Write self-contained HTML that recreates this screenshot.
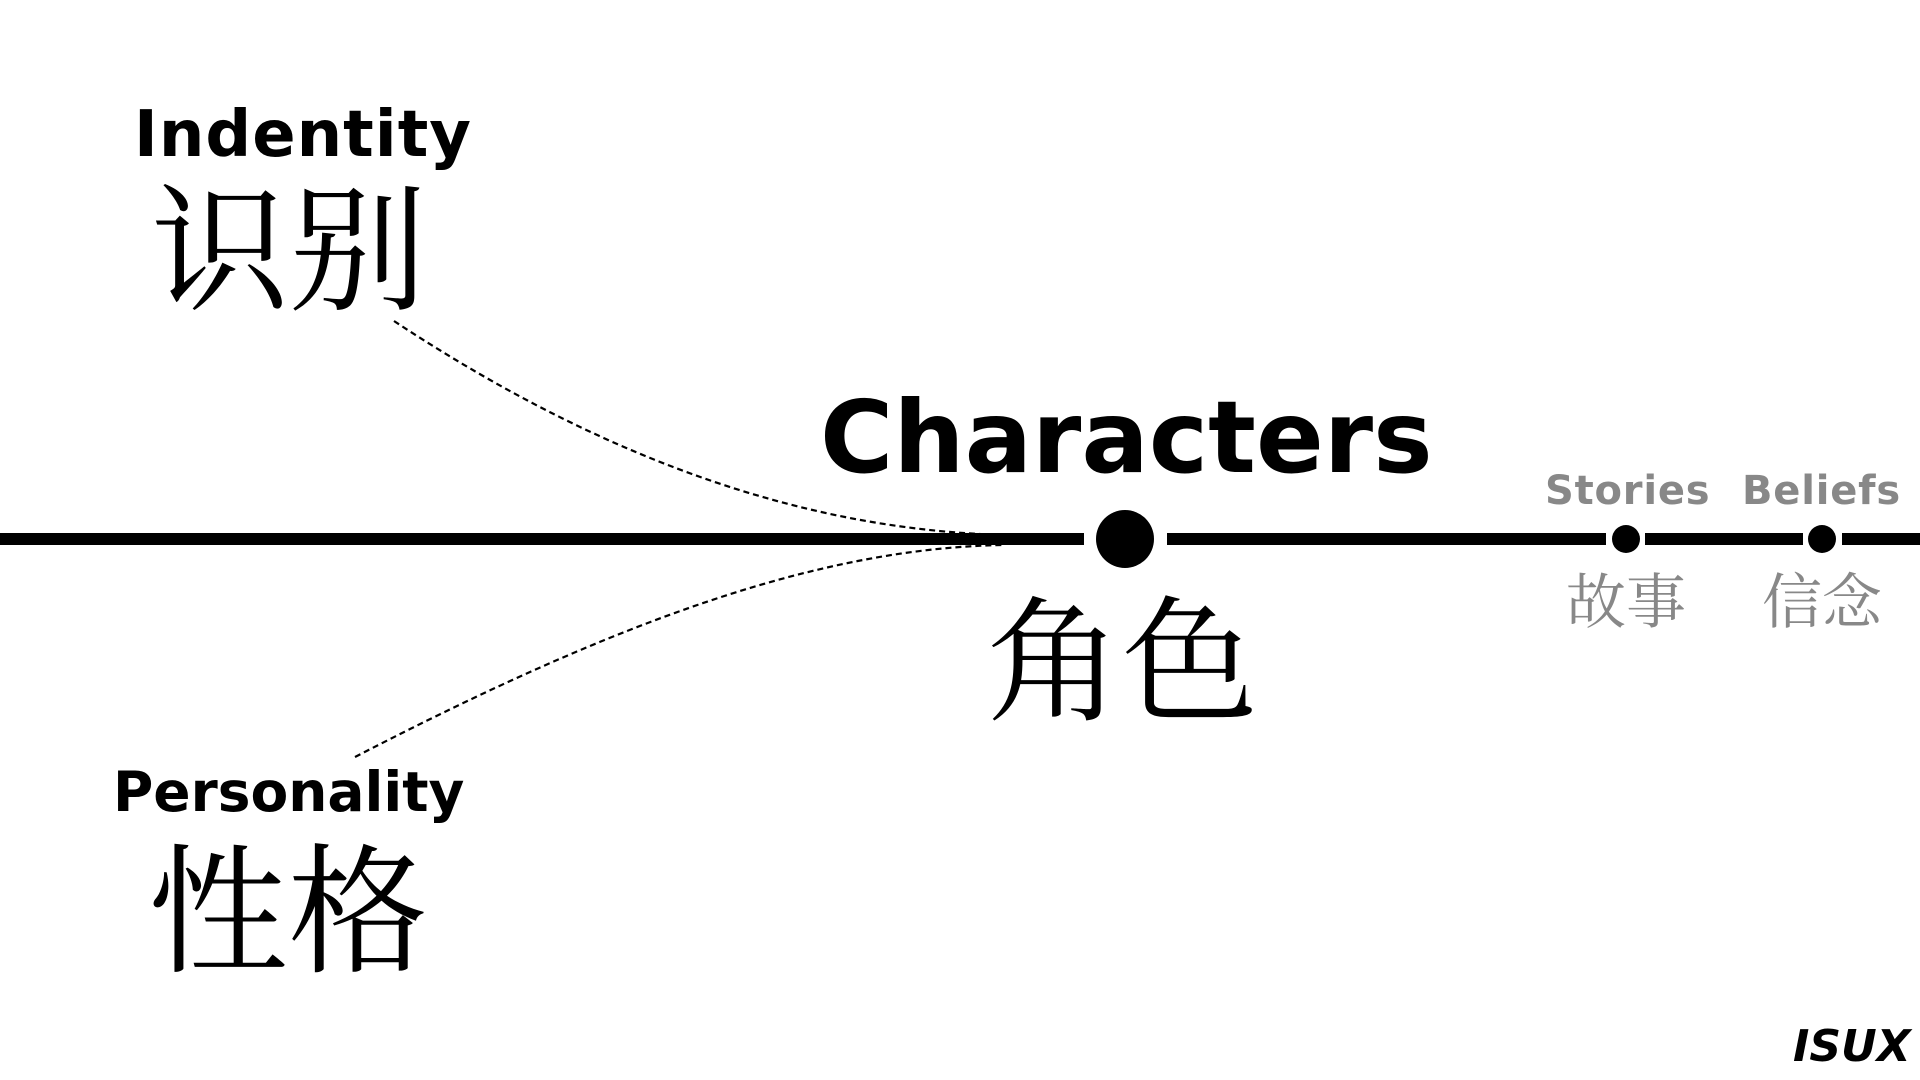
<!DOCTYPE html>
<html><head><meta charset="utf-8"><style>
html,body{margin:0;padding:0;background:#fff;}
body{width:1920px;height:1080px;position:relative;overflow:hidden;}
.t{position:absolute;white-space:nowrap;line-height:1;}
.en{font-family:"DejaVu Sans","Liberation Sans",sans-serif;font-weight:bold;}
.zh{font-family:"Liberation Serif","Noto Serif CJK SC",serif;}
</style></head><body>
<svg width="1920" height="1080" style="position:absolute;left:0;top:0">
<path d="M394,321 C620,470 820,530 1004,535" fill="none" stroke="#000" stroke-width="2.2" stroke-dasharray="6,4"/>
<path d="M355,757 C620,620 820,548 1004,545" fill="none" stroke="#000" stroke-width="2.2" stroke-dasharray="6,4"/>
<rect x="0" y="533" width="1084" height="12" fill="#000"/>
<rect x="1167" y="533" width="439" height="12" fill="#000"/>
<rect x="1645" y="533" width="158" height="12" fill="#000"/>
<rect x="1842" y="533" width="78" height="12" fill="#000"/>
<circle cx="1125" cy="539" r="29" fill="#000"/>
<circle cx="1626" cy="539" r="14" fill="#000"/>
<circle cx="1822" cy="539" r="14" fill="#000"/>
</svg>
<div class="t en" style="left:820px;top:388px;font-size:100px;letter-spacing:0px;">Characters</div>
<div class="t zh" style="left:986px;top:597px;font-size:136px;">角色</div>
<div class="t en" style="left:1545px;top:471px;font-size:40px;color:#888;letter-spacing:0.8px;">Stories</div>
<div class="t en" style="left:1742px;top:471px;font-size:40px;color:#888;letter-spacing:0.8px;">Beliefs</div>
<div class="t zh" style="left:1566px;top:573px;font-size:60px;color:#888;">故事</div>
<div class="t zh" style="left:1762px;top:573px;font-size:60px;color:#888;">信念</div>
<div class="t en" style="left:134px;top:103px;font-size:64px;letter-spacing:1px;">Indentity</div>
<div class="t zh" style="left:151px;top:184px;font-size:138px;">识别</div>
<div class="t en" style="left:113px;top:765px;font-size:55px;">Personality</div>
<div class="t zh" style="left:148px;top:845px;font-size:140px;">性格</div>
<div class="t en" style="left:1793px;top:1025px;font-size:44px;font-style:italic;">ISUX</div>
</body></html>
